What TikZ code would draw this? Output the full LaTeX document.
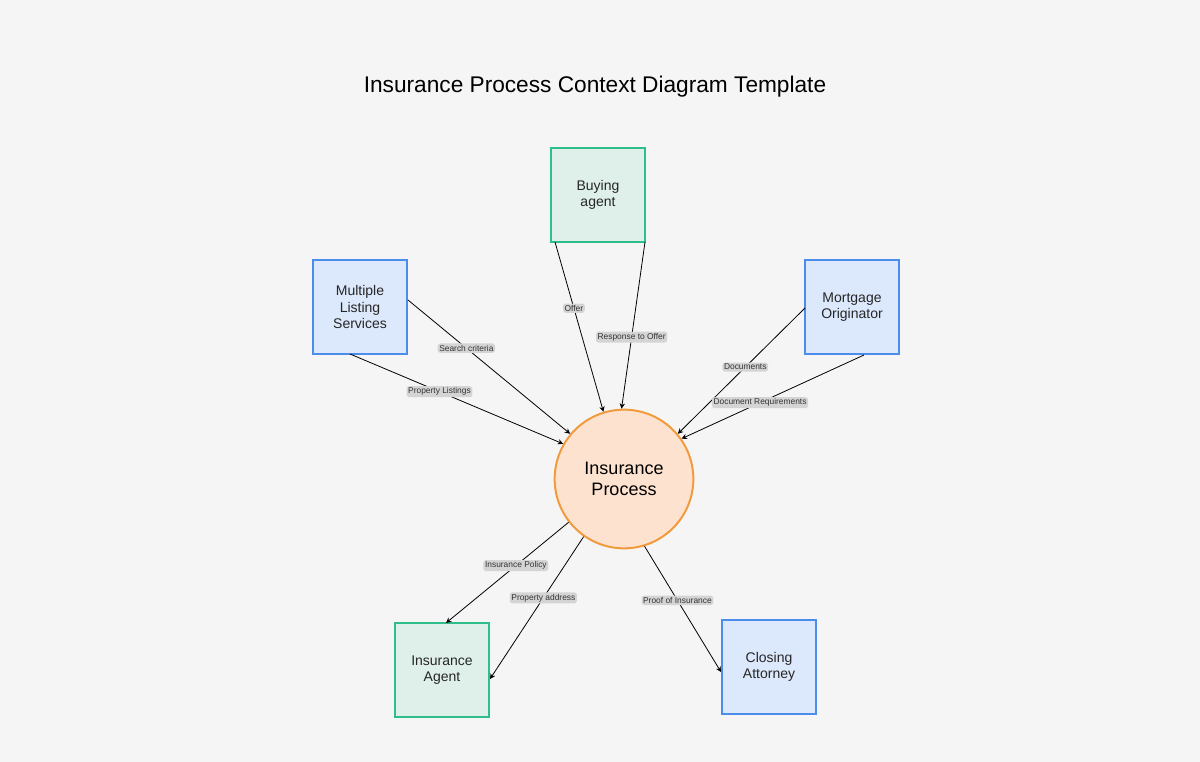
\documentclass[tikz,border=0pt]{standalone}
\usepackage{fontspec}
\setmainfont{Liberation Sans}
\usetikzlibrary{arrows.meta}
\definecolor{bg}{HTML}{F5F5F5}
\definecolor{bluefill}{HTML}{DCE8FB}
\definecolor{blueline}{HTML}{4A8DEB}
\definecolor{greenfill}{HTML}{DFF0EA}
\definecolor{greenline}{HTML}{2DBE8A}
\definecolor{orfill}{HTML}{FDE3CF}
\definecolor{orline}{HTML}{F19A3E}
\definecolor{lblfill}{HTML}{D4D4D4}
\tikzset{
  entity/.style={draw, line width=1.5pt, minimum size=70pt, inner sep=0pt,
                 align=center, font=\fontsize{10.5}{12.5}\selectfont, text=black!85},
  bluebox/.style={entity, fill=bluefill, draw=blueline},
  greenbox/.style={entity, fill=greenfill, draw=greenline},
  flow/.style={black, line width=0.6pt, -{Stealth[length=4pt,width=4pt]}},
  lbl/.style={fill=lblfill, rounded corners=2pt, inner sep=1.2pt,
              font=\fontsize{6.3}{7}\selectfont, text=black!80}
}
\begin{document}
\begin{tikzpicture}[x=0.75pt,y=-0.75pt]
  \fill[bg] (0,0) rectangle (1200,762);
  \useasboundingbox (0,0) rectangle (1200,762);

% title
  \node[font=\fontsize{17}{20}\selectfont] (title) at (595,87) {Insurance Process Context Diagram Template};

% entities
  \node[greenbox] (buying) at (598,195) {Buying\\agent};
  \node[bluebox] (mls) at (360,307) {Multiple\\Listing\\Services};
  \node[bluebox] (mortgage) at (852,307) {Mortgage\\Originator};
  \node[greenbox] (agent) at (442,670) {Insurance\\Agent};
  \node[bluebox] (closing) at (769,667) {Closing\\Attorney};

% process
  \node[circle, draw=orline, fill=orfill, line width=1.5pt, minimum size=104pt,
        align=center, font=\fontsize{13.5}{16}\selectfont] (proc) at (624,479) {Insurance\\Process};

% free ends
  \coordinate (b1) at (555,242);
  \coordinate (b2) at (645,242);
  \coordinate (m1) at (408,300);
  \coordinate (m2) at (350,354);
  \coordinate (o1) at (805,308);
  \coordinate (o2) at (864,355);
  \coordinate (a1) at (446,623);
  \coordinate (a2) at (490,679);
  \coordinate (c1) at (721,672);

% flows
  \draw[flow] (b1) -- (proc.107) node[lbl,pos=0.39] {Offer};
  \draw[flow] (b2) -- (proc.92) node[lbl,pos=0.57] {Response to Offer};
  \draw[flow] (m1) -- (proc.140) node[lbl,pos=0.36] {Search criteria};
  \draw[flow] (m2) -- (proc.150) node[lbl,pos=0.42] {Property Listings};
  \draw[flow] (o1) -- (proc.40) node[lbl,pos=0.47] {Documents};
  \draw[flow] (o2) -- (proc.35) node[lbl,pos=0.57] {Document Requirements};
  \draw[flow] (proc.-142) -- (a1) node[lbl,pos=0.43] {Insurance Policy};
  \draw[flow] (proc.-125) -- (a2) node[lbl,pos=0.43] {Property address};
  \draw[flow] (proc.-73) -- (c1) node[lbl,pos=0.43] {Proof of Insurance};
\end{tikzpicture}
\end{document}
